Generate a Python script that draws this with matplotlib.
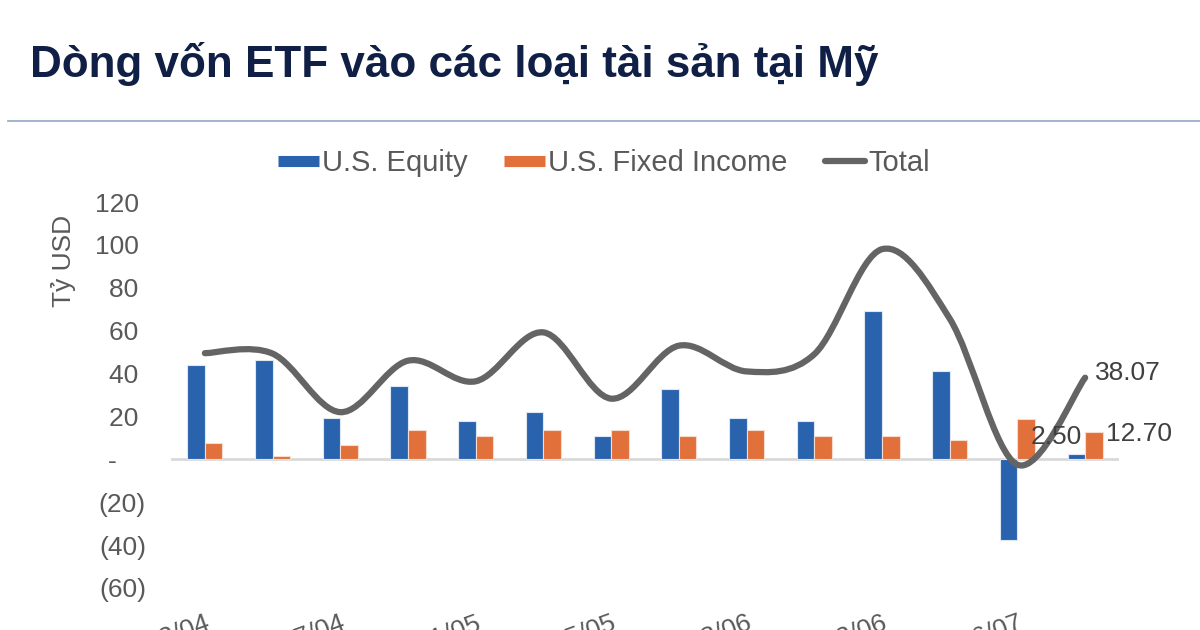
import numpy as np
import matplotlib
matplotlib.use('Agg')
import matplotlib.pyplot as plt
from matplotlib.path import Path
from matplotlib.patches import PathPatch
from matplotlib.lines import Line2D
from matplotlib.ticker import FuncFormatter

plt.rcParams['font.family'] = ['Liberation Sans', 'DejaVu Sans']

# ---------------- data ----------------
categories = ['13/04', '20/04', '27/04', '04/05', '11/05', '18/05', '25/05',
              '01/06', '08/06', '15/06', '22/06', '29/06', '06/07', '13/07']
equity = [44.2, 46.5, 19.5, 34.4, 17.7, 22.3, 10.7, 32.6, 19.5, 17.7, 69.3, 41.4, -37.7, 2.50]
fixed_income = [7.4, 1.4, 6.5, 13.5, 10.7, 13.5, 13.5, 10.7, 13.5, 10.7, 10.7, 8.8, 18.6, 12.70]
total = [49.5, 49.3, 22.0, 46.0, 36.4, 59.2, 28.3, 53.0, 41.0, 49.0, 98.0, 65.6, -2.5, 38.07]
y_ticks = [-60, -40, -20, 0, 20, 40, 60, 80, 100, 120]
series_names = ['U.S. Equity', 'U.S. Fixed Income', 'Total']
title = 'Dòng vốn ETF vào các loại tài sản tại Mỹ'
y_label = 'Tỷ USD'

BLUE = '#2A63AD'
ORANGE = '#E2703A'
GRAY_LINE = '#646464'
TICK = '#595959'

W, H = 1200, 630
fig = plt.figure(figsize=(12, 6.3), dpi=100)

# title + rule
fig.text(30 / W, 1 - 77 / H, title, fontsize=31.7, fontweight='bold',
         color='#0F1F45', ha='left', va='baseline')
fig.add_artist(Line2D([8 / W, 1.0], [1 - 121 / H, 1 - 121 / H],
                      color='#9AAECB', lw=1.3, transform=fig.transFigure))

ax = fig.add_axes([171 / W, 42 / H, 948 / W, 386 / H])
x = np.arange(len(categories))
bw = 0.26
ax.bar(x - bw / 2, equity, width=bw, color=BLUE, edgecolor='#dfe7f3', lw=0.8, zorder=2)
ax.bar(x + bw / 2, fixed_income, width=bw, color=ORANGE, edgecolor='#f6dccf', lw=0.8, zorder=2)
ax.axhline(0, color='#d9d9d9', lw=2, zorder=1)

# smoothed total line (Excel-style Catmull-Rom Bezier through the data points)
pts = np.column_stack([x, total]).astype(float)
ext = np.vstack([pts[0], pts, pts[-1]])
verts = [tuple(pts[0])]
codes = [Path.MOVETO]
for i in range(len(pts) - 1):
    p0, p1, p2, p3 = ext[i], ext[i + 1], ext[i + 2], ext[i + 3]
    c1 = p1 + (p2 - p0) / 6
    c2 = p2 - (p3 - p1) / 6
    verts += [tuple(c1), tuple(c2), tuple(p2)]
    codes += [Path.CURVE4] * 3
ax.add_patch(PathPatch(Path(verts, codes), facecolor='none', edgecolor=GRAY_LINE,
                       lw=4.5, capstyle='round', joinstyle='round', zorder=3))

ax.set_xlim(-0.5, len(categories) - 0.5)
ax.set_ylim(y_ticks[0], y_ticks[-1])
for s in ax.spines.values():
    s.set_visible(False)

def yfmt(v, pos):
    v = int(round(v))
    if v > 0:
        return f'{v} '
    if v == 0:
        return '-    '
    return f'({-v})'

ax.set_yticks(y_ticks)
ax.yaxis.set_major_formatter(FuncFormatter(yfmt))
ax.tick_params(axis='y', length=0, pad=18, labelsize=19, labelcolor=TICK)
ax.set_xticks(x[::2])
ax.set_xticklabels(categories[::2])
ax.tick_params(axis='x', length=0, pad=16.5, labelsize=19, labelcolor=TICK)
for lab in ax.get_xticklabels():
    lab.set_rotation(20)
    lab.set_ha('right')
    lab.set_va('top')
    lab.set_rotation_mode('anchor')

fig.text(63 / W, 1 - 261 / H, y_label, rotation=90, fontsize=19, color=TICK,
         ha='center', va='center')

# data labels on last category
lc = len(categories) - 1
ax.annotate(f'{equity[lc]:.2f}', xy=(lc - bw / 2, equity[lc]), xytext=(-20, 17),
            textcoords='offset pixels', ha='center', va='center', fontsize=19,
            color='#404040', zorder=4)
ax.annotate(f'{fixed_income[lc]:.2f}', xy=(lc + bw, fixed_income[lc]), xytext=(3, -2),
            textcoords='offset pixels', ha='left', va='center', fontsize=19,
            color='#404040', zorder=4)
ax.annotate(f'{total[lc]:.2f}', xy=(lc, total[lc]), xytext=(10, 5),
            textcoords='offset pixels', ha='left', va='center', fontsize=19,
            color='#404040', zorder=4)

handles = [Line2D([], [], color=BLUE, lw=8, solid_capstyle='butt'),
           Line2D([], [], color=ORANGE, lw=8, solid_capstyle='butt'),
           Line2D([], [], color=GRAY_LINE, lw=4.5, solid_capstyle='round')]
fig.legend(handles, series_names, loc='center', bbox_to_anchor=(604 / W, 1 - 163 / H),
           ncol=3, frameon=False, fontsize=21, handlelength=1.4, handletextpad=0.1,
           columnspacing=1.27, labelcolor=TICK)

fig.savefig('out.png', dpi=100)
